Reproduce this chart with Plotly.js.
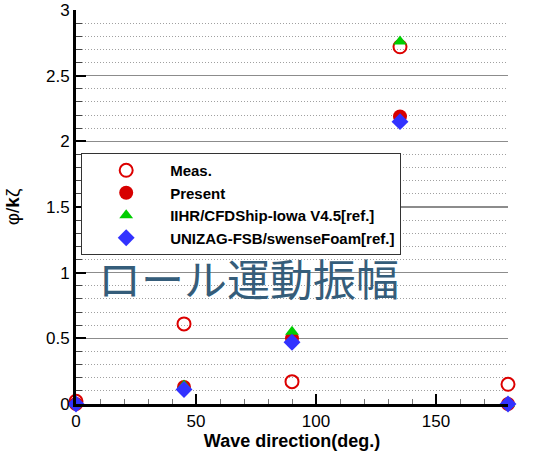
<!DOCTYPE html>
<html>
<head>
<meta charset="utf-8">
<script src="https://cdn.plot.ly/plotly-3.0.1.min.js"></script>
<style>html,body{margin:0;padding:0;background:#fff;}#chart{width:533px;height:451px;}</style>
</head>
<body>
<div id="chart"></div>
<script>
const directions = [0, 45, 90, 135, 180];
const meas = [0.02, 0.61, 0.17, 2.72, 0.15];
const present = [0.00, 0.13, 0.50, 2.19, 0.00];
const iihr = [0.00, 0.14, 0.55, 2.76, 0.00];
const unizag = [0.00, 0.11, 0.47, 2.15, 0.00];
const seriesNames = ["Meas.", "Present", "IIHR/CFDShip-Iowa V4.5[ref.]", "UNIZAG-FSB/swenseFoam[ref.]"];
const xTitle = "Wave direction(deg.)";
const yTitle = "φ/<b>k</b>ζ";
const overlayText = "ロール運動振幅";

const font = "Liberation Sans, Arial, sans-serif";

const traces = [
  {x: directions, y: meas, name: seriesNames[0], mode: "markers", type: "scatter", cliponaxis: false,
   marker: {symbol: "circle-open", size: 13, color: "rgb(220,0,0)", line: {width: 2, color: "rgb(220,0,0)"}}},
  {x: directions, y: present, name: seriesNames[1], mode: "markers", type: "scatter", cliponaxis: false,
   marker: {symbol: "circle", size: 14, color: "rgb(215,0,0)"}},
  {x: directions, y: iihr, name: seriesNames[2], mode: "markers", type: "scatter", cliponaxis: false,
   marker: {symbol: "triangle-up", size: 12, color: "rgb(0,205,0)"}},
  {x: directions, y: unizag, name: seriesNames[3], mode: "markers", type: "scatter", cliponaxis: false,
   marker: {symbol: "diamond", size: 13, color: "rgb(50,50,255)"}}
];

const layout = {
  width: 533, height: 451,
  margin: {l: 76, r: 25, t: 10, b: 47, pad: 0},
  paper_bgcolor: "#fff", plot_bgcolor: "#fff",
  font: {family: font, color: "#000"},
  showlegend: true,
  legend: {x: 0.012, y: 0.637, xanchor: "left", yanchor: "top",
    bgcolor: "#fff", bordercolor: "#333", borderwidth: 1,
    font: {family: font, size: 15, weight: "bold", color: "#000"},
    itemwidth: 78, tracegroupgap: 0},
  xaxis: {range: [0, 180], dtick: 50, tick0: 0, ticks: "inside", ticklen: 10, tickwidth: 2, tickcolor: "#000",
    showline: true, linewidth: 3, linecolor: "#000", showgrid: false, zeroline: false,
    tickfont: {family: font, size: 17, color: "#000"},
    minor: {dtick: 10, ticks: "inside", ticklen: 5, tickwidth: 1, tickcolor: "#777", showgrid: false},
    title: {text: xTitle, font: {family: font, size: 18, weight: "bold", color: "#000"}, standoff: 4}},
  yaxis: {range: [0, 3], dtick: 0.5, tick0: 0, ticks: "inside", ticklen: 10, tickwidth: 2, tickcolor: "#000",
    showline: true, linewidth: 3, linecolor: "#000", showgrid: true, gridcolor: "#8c8c8c", gridwidth: 1.5,
    zeroline: false,
    tickfont: {family: font, size: 17, color: "#000"},
    minor: {dtick: 0.1, ticks: "inside", ticklen: 6, tickwidth: 1, tickcolor: "#444",
      showgrid: true, gridcolor: "#a0a0a0", gridwidth: 1, griddash: "1px,2px"},
    title: {text: yTitle, font: {family: font, size: 19, color: "#000"}, standoff: 22}},
  annotations: [{text: overlayText, xref: "paper", yref: "paper", x: 0.40, y: 0.322,
    xanchor: "center", yanchor: "middle", showarrow: false,
    font: {family: "Noto Sans CJK JP", size: 43, color: "#355d7a"}}]
};

Plotly.newPlot("chart", traces, layout, {displayModeBar: false, staticPlot: true});
</script>
</body>
</html>
